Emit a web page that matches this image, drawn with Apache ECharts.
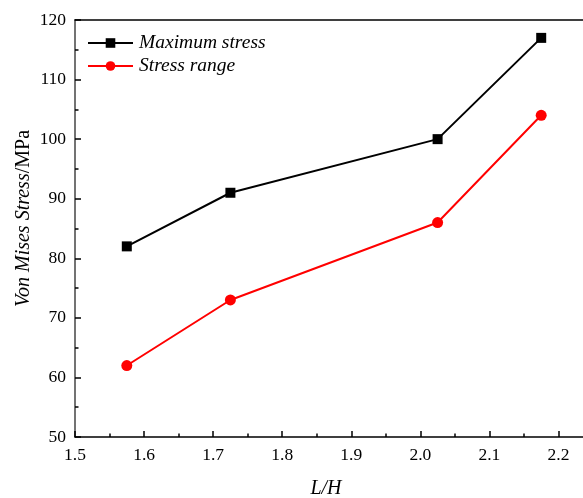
<!DOCTYPE html>
<html>
<head>
<meta charset="utf-8">
<script src="https://cdn.jsdelivr.net/npm/echarts@6/dist/echarts.min.js"></script>
<style>
  html, body { margin: 0; padding: 0; background: #fff; }
  #chart { width: 583px; height: 498px; }
</style>
</head>
<body>
<div id="chart"></div>
<script>
// L/H ratios and the corresponding stresses (MPa)
const ratios = [1.575, 1.725, 2.025, 2.175];
const maxStress = [82, 91, 100, 117];
const stressRange = [62, 73, 86, 104];

const FONT = '"Liberation Serif", "Times New Roman", serif';

const pairs = (xs, ys) => xs.map((x, i) => [x, ys[i]]);
// only label whole tenths (the axis end at 2.25 stays blank)
const tenth = v => (Math.abs(v * 10 - Math.round(v * 10)) < 1e-6 ? v.toFixed(1) : '');

const chart = echarts.init(document.getElementById('chart'));
chart.setOption({
  animation: false,
  textStyle: { fontFamily: FONT },
  grid: { left: 75, top: 20, bottom: 61, right: -10, outerBoundsMode: 'none', containLabel: false },
  legend: {
    left: 87, top: 33, orient: 'vertical', itemGap: 3, padding: 0,
    itemWidth: 45, itemHeight: 12,
    textStyle: { fontFamily: FONT, fontSize: 19.5, fontStyle: 'italic', color: '#000', padding: [0, 0, 0, 1] },
    data: ['Maximum stress', 'Stress range']
  },
  xAxis: [{
    type: 'value', min: 1.5, max: 2.25, interval: 0.1,
    name: 'L/H', nameLocation: 'middle', nameGap: 42,
    nameTextStyle: { fontFamily: FONT, fontSize: 20, fontStyle: 'italic', color: '#000', padding: [0, 16, 0, 0] },
    axisLine: { lineStyle: { color: '#000', width: 1.5 } },
    axisTick: { inside: true, length: 6, lineStyle: { color: '#000', width: 1.5 } },
    minorTick: { show: true, splitNumber: 2, length: 3.5, lineStyle: { color: '#000', width: 1.5 } },
    axisLabel: { fontFamily: FONT, fontSize: 17.5, color: '#000', margin: 9, formatter: tenth },
    splitLine: { show: false }
  }, {
    type: 'value', position: 'top', min: 1.5, max: 2.25,
    axisLine: { lineStyle: { color: '#000', width: 1.5 } },
    axisTick: { show: false }, axisLabel: { show: false }, splitLine: { show: false }
  }],
  yAxis: [{
    type: 'value', min: 50, max: 120, interval: 10,
    name: '{i|Von Mises Stress}{n|/MPa}', nameLocation: 'middle', nameGap: 41, nameRotate: 90,
    nameMoveOverlap: false,
    nameTextStyle: {
      padding: [0, 0, 0, 20],
      rich: {
        i: { fontFamily: FONT, fontSize: 20, fontStyle: 'italic', color: '#000' },
        n: { fontFamily: FONT, fontSize: 20, color: '#000' }
      }
    },
    axisLine: { lineStyle: { color: '#444', width: 1.5 } },
    axisTick: { inside: true, length: 6, lineStyle: { color: '#000', width: 1.5 } },
    minorTick: { show: true, splitNumber: 2, length: 3.5, lineStyle: { color: '#000', width: 1.5 } },
    axisLabel: { fontFamily: FONT, fontSize: 17.5, color: '#000', margin: 9 },
    splitLine: { show: false }
  }],
  series: [{
    name: 'Maximum stress', type: 'line',
    data: pairs(ratios, maxStress),
    symbol: 'rect', symbolSize: 10,
    itemStyle: { color: '#000' },
    lineStyle: { color: '#000', width: 2 }
  }, {
    name: 'Stress range', type: 'line',
    data: pairs(ratios, stressRange),
    symbol: 'circle', symbolSize: 11,
    itemStyle: { color: '#ff0000' },
    lineStyle: { color: '#ff0000', width: 2 }
  }]
});
</script>
</body>
</html>
